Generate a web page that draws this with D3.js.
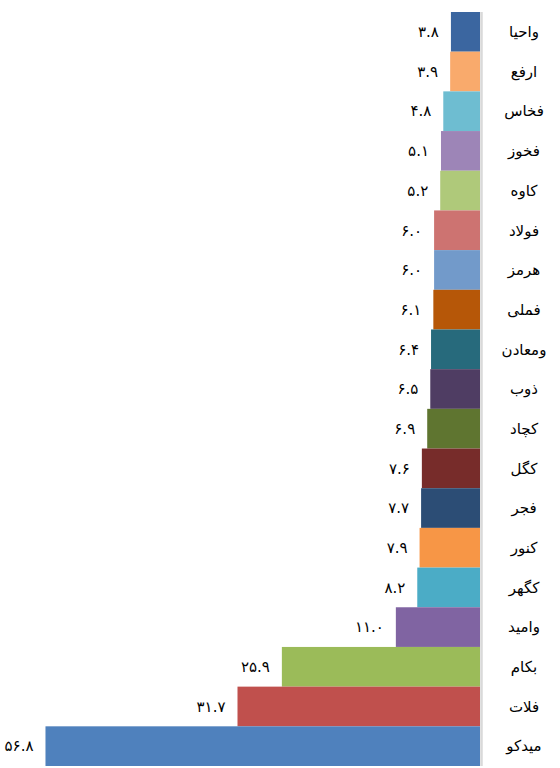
<!DOCTYPE html>
<html>
<head>
<meta charset="utf-8">
<script src="https://cdn.jsdelivr.net/npm/d3@7"></script>
<style>
  body { margin: 0; background: #fff; }
  text { font-family: "DejaVu Sans", sans-serif; }
</style>
</head>
<body>
<div class="vis"></div>
<script>
const categories = ["واحیا", "ارفع", "فخاس", "فخوز", "کاوه", "فولاد", "هرمز", "فملی", "ومعادن", "ذوب",
    "کچاد", "کگل", "فجر", "کنور", "کگهر", "وامید", "بکام", "فلات", "میدکو"];
const values = [3.8, 3.9, 4.8, 5.1, 5.2, 6.0, 6.0, 6.1, 6.4, 6.5, 6.9, 7.6, 7.7, 7.9, 8.2, 11.0, 25.9, 31.7, 56.8];
const colors = ["#3B66A0", "#F9AA6C", "#6EBDD1", "#9D85B7", "#AFC97A", "#CD7371", "#729ACA", "#B65708",
    "#276A7C", "#4F3D63", "#5F7530", "#772C2A", "#2C4D75", "#F79646", "#4BACC6", "#8064A2",
    "#9BBB59", "#C0504D", "#4F81BD"];

const data = categories.map((c, i) => ({ name: c, value: values[i], color: colors[i] }));

const width = 560, height = 768;

const svg = d3.select(".vis")
    .append("svg")
    .attr("width", width)
    .attr("height", height);

// bars grow right to left from the axis
const x = d3.scaleLinear()
    .domain([0, 60])
    .range([480, 21]);

const y = d3.scaleBand()
    .domain(categories)
    .range([12, 766])
    .padding(0);

function persianDigits(s) {
    return s.replace(/[0-9]/g, d => "۰۱۲۳۴۵۶۷۸۹"[+d]);
}

svg.append("g")
    .selectAll("rect")
    .data(data)
    .join("rect")
    .attr("x", d => x(d.value))
    .attr("y", d => y(d.name))
    .attr("width", d => x(0) - x(d.value))
    .attr("height", y.bandwidth())
    .attr("fill", d => d.color);

// axis line
svg.append("line")
    .attr("x1", x(0) + 1.5)
    .attr("x2", x(0) + 1.5)
    .attr("y1", y.range()[0])
    .attr("y2", y.range()[1])
    .attr("stroke", "#d9d9d9")
    .attr("stroke-width", 2.5);

// value labels
svg.append("g")
    .selectAll("text")
    .data(data)
    .join("text")
    .attr("x", d => x(d.value) - 12)
    .attr("y", d => y(d.name) + y.bandwidth() / 2)
    .attr("dy", "0.35em")
    .attr("text-anchor", "end")
    .attr("font-size", 15)
    .attr("fill", "#000")
    .text(d => persianDigits(d.value.toFixed(1)));

// category labels
svg.append("g")
    .selectAll("text")
    .data(data)
    .join("text")
    .attr("x", 524)
    .attr("y", d => y(d.name) + y.bandwidth() / 2)
    .attr("dy", "0.35em")
    .attr("text-anchor", "middle")
    .attr("font-size", 15)
    .attr("fill", "#000")
    .text(d => d.name);
</script>
</body>
</html>
